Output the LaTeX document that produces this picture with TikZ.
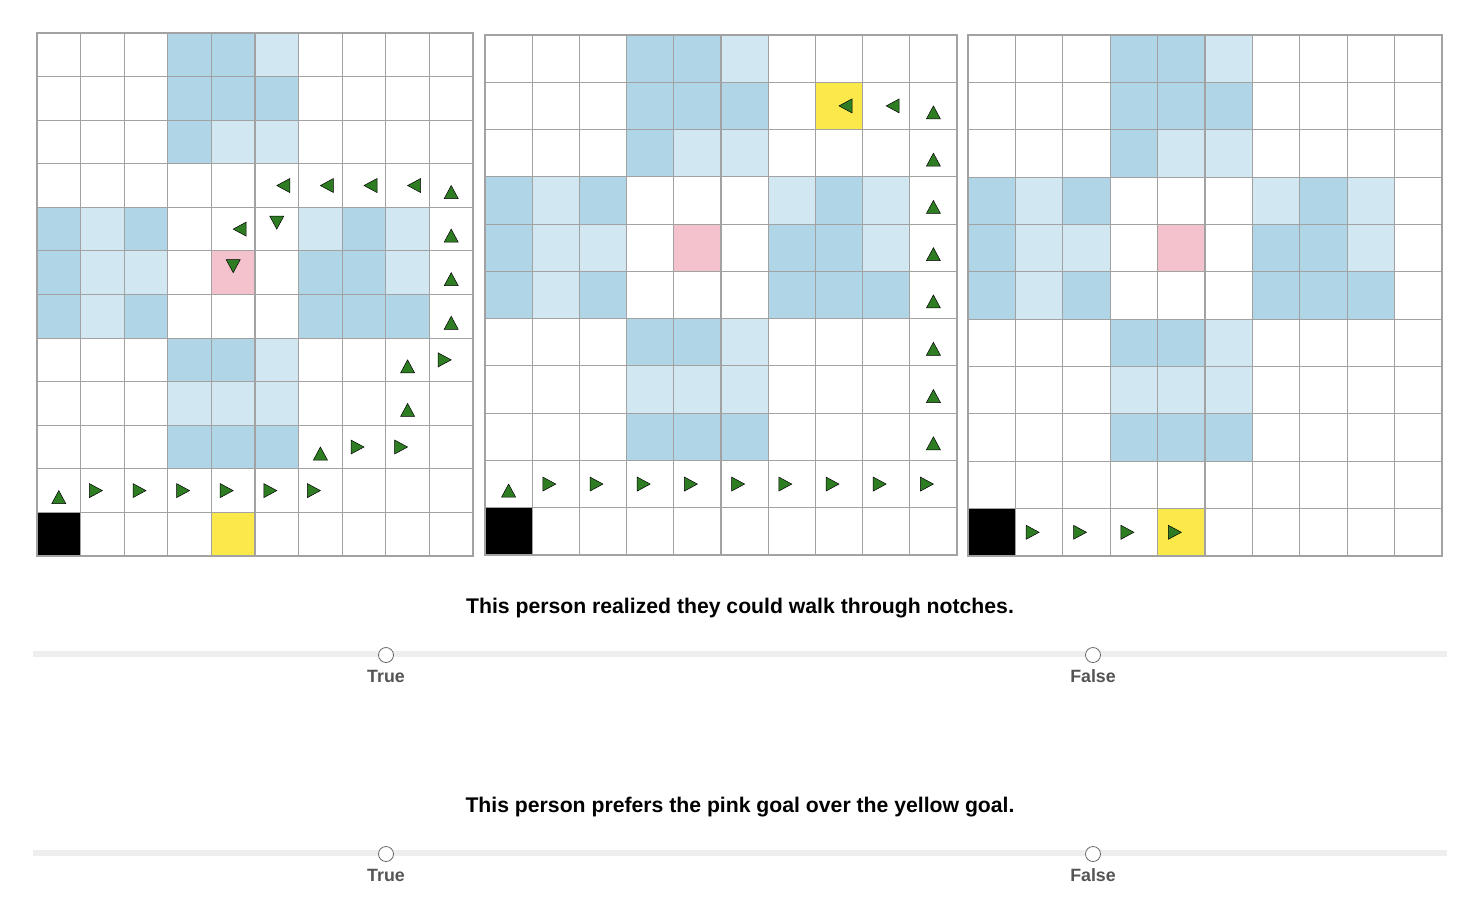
\documentclass[tikz,border=0pt]{standalone}
\usepackage{fontspec}
\setmainfont{Liberation Sans}
\definecolor{dblue}{HTML}{AFD5E6}
\definecolor{lblue}{HTML}{D1E8F3}
\definecolor{pinkc}{HTML}{F4C2CC}
\definecolor{yellowc}{HTML}{FBE84B}
\definecolor{gridc}{HTML}{A2A2A2}
\definecolor{arrowc}{HTML}{2E7D23}
\definecolor{barc}{HTML}{EEEEEE}
\definecolor{labelc}{HTML}{545454}
\tikzset{
  cellbox/.style={draw=gridc, line width=1.1pt},
  dcell/.style={cellbox, fill=dblue},
  lcell/.style={cellbox, fill=lblue},
  pcell/.style={cellbox, fill=pinkc},
  ycell/.style={cellbox, fill=yellowc},
  kcell/.style={cellbox, fill=black},
  wcell/.style={cellbox, fill=white},
  movearrow/.style={fill=arrowc, draw=black, line width=0.5pt, line join=miter},
  question/.style={font=\fontsize{21.2}{25}\selectfont\bfseries, text=black, inner sep=0pt},
  choice/.style={font=\fontsize{17.8}{21}\selectfont\bfseries, text=labelc, inner sep=0pt},
  radio/.style={circle, draw=gray!80!black, fill=white, line width=0.8pt, minimum size=15pt, inner sep=0pt},
  bar/.style={fill=barc, draw=none}
}
% blocks: #1 top row, #2 middle row, #3 bottom row
\newcommand{\myblocks}[3]{%
  \foreach \c/\r/\s in {3/0/d,4/0/d,5/0/l, 3/1/d,4/1/d,5/1/d, 3/2/d,4/2/l,5/2/l}{%
    \pgfmathtruncatemacro{\rr}{\r+#1}\path[\s cell] (\c,\rr) rectangle ++(1,1);}
  \foreach \c/\r/\s in {0/0/d,1/0/l,2/0/d, 0/1/d,1/1/l,2/1/l, 0/2/d,1/2/l,2/2/d,
                        6/0/l,7/0/d,8/0/l, 6/1/d,7/1/d,8/1/l, 6/2/d,7/2/d,8/2/d}{%
    \pgfmathtruncatemacro{\rr}{\r+#2}\path[\s cell] (\c,\rr) rectangle ++(1,1);}
  \foreach \c/\r/\s in {3/0/d,4/0/d,5/0/l, 3/1/l,4/1/l,5/1/l, 3/2/d,4/2/d,5/2/d}{%
    \pgfmathtruncatemacro{\rr}{\r+#3}\path[\s cell] (\c,\rr) rectangle ++(1,1);}
}
\newcommand{\mywhite}[1]{%
  \foreach \c in {0,...,9}{\foreach \r in {0,...,#1}{\path[wcell] (\c,\r) rectangle ++(1,1);}}}
\newcommand{\myarr}[3]{%
  \path[movearrow, shift={(#1+0.5,#2+0.5)}, rotate=#3] (0pt,0pt) -- (-13pt,7pt) -- (-13pt,-7pt) -- cycle;}
\begin{document}
\begin{tikzpicture}[x=1pt, y=-1pt]
\useasboundingbox (0,0) rectangle (1482,916);
\fill[white] (0,0) rectangle (1482,916);

% ---------- Grid 1 ----------
\begin{scope}[shift={(37pt,-33pt)}, x=43.6pt, y=-43.58pt]
  \mywhite{11}
  \myblocks{0}{4}{7}
  \path[pcell] (4,5) rectangle ++(1,1);
  \path[kcell] (0,11) rectangle ++(1,1);
  \path[ycell] (4,11) rectangle ++(1,1);
  \foreach \c in {5,6,7,8}{\myarr{\c}{3}{180}}
  \foreach \r in {3,4,5,6}{\myarr{9}{\r}{90}}
  \myarr{4}{4}{180}
  \myarr{5}{4}{270}
  \myarr{4}{5}{270}
  \myarr{8}{7}{90}
  \myarr{9}{7}{0}
  \myarr{8}{8}{90}
  \myarr{6}{9}{90}
  \myarr{7}{9}{0}
  \myarr{8}{9}{0}
  \myarr{0}{10}{90}
  \foreach \c in {1,...,6}{\myarr{\c}{10}{0}}
\end{scope}

% ---------- Grid 2 ----------
\begin{scope}[shift={(485pt,-35pt)}, x=47.2pt, y=-47.27pt]
  \mywhite{10}
  \myblocks{0}{3}{6}
  \path[pcell] (4,4) rectangle ++(1,1);
  \path[kcell] (0,10) rectangle ++(1,1);
  \path[ycell] (7,1) rectangle ++(1,1);
  \myarr{7}{1}{180}
  \myarr{8}{1}{180}
  \foreach \r in {1,...,8}{\myarr{9}{\r}{90}}
  \myarr{0}{9}{90}
  \foreach \c in {1,...,9}{\myarr{\c}{9}{0}}
\end{scope}

% ---------- Grid 3 ----------
\begin{scope}[shift={(968pt,-35pt)}, x=47.4pt, y=-47.36pt]
  \mywhite{10}
  \myblocks{0}{3}{6}
  \path[pcell] (4,4) rectangle ++(1,1);
  \path[kcell] (0,10) rectangle ++(1,1);
  \path[ycell] (4,10) rectangle ++(1,1);
  \foreach \c in {1,...,4}{\myarr{\c}{10}{0}}
\end{scope}

% ---------- Question 1 ----------
\node[question] (q1) at (740,608) {This person realized they could walk through notches.};
\path[bar] (33,651) rectangle (1447,657);
\node[radio] (q1t) at (386,655) {};
\node[radio] (q1f) at (1093,655) {};
\node[choice] (q1tl) at (386,676) {True};
\node[choice] (q1fl) at (1093,676) {False};

% ---------- Question 2 ----------
\node[question] (q2) at (740,807) {This person prefers the pink goal over the yellow goal.};
\path[bar] (33,850) rectangle (1447,856);
\node[radio] (q2t) at (386,854) {};
\node[radio] (q2f) at (1093,854) {};
\node[choice] (q2tl) at (386,875) {True};
\node[choice] (q2fl) at (1093,875) {False};
\end{tikzpicture}
\end{document}
